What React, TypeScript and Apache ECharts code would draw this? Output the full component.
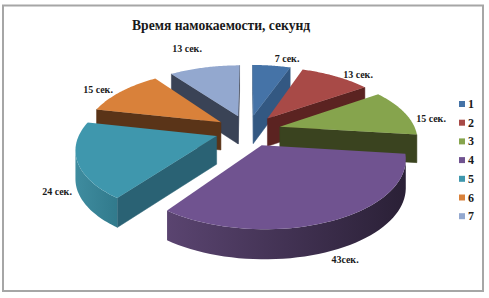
import React, { useEffect, useRef } from "react";
import * as echarts from "echarts";

const CATEGORIES = ["1", "2", "3", "4", "5", "6", "7"];
const VALUES = [7, 13, 15, 43, 24, 15, 13];
const LABELS = ["7 сек.", "13 сек.", "15 сек.", "43сек.", "24 сек.", "15 сек.", "13 сек."];
const TITLE = "Время намокаемости, секунд";

const TOP_COLORS = ["#4573a7", "#a84a47", "#86a44d", "#705390", "#3f97ad", "#d9813a", "#93a8cf"];
const WALL_COLORS = ["#335882", "#5b2321", "#3a431f", "#2b2138", "#2a6274", "#5a3418", "#3a4356"];
const OUTER_LEFT = ["#335882", "#5b2321", "#3a431f", "#5a4470", "#3f8c9f", "#5a3418", "#3a4356"];
const OUTER_RIGHT = ["#335882", "#5b2321", "#3a431f", "#2a2036", "#317a8c", "#5a3418", "#3a4356"];
const PAINT_ORDER = [0, 6, 1, 5, 2, 4, 3];
const LABEL_POS: [number, number][] = [
  [287, 58], [358, 74], [431, 118], [345, 259], [57, 191], [98, 89], [187, 48],
];

const CX = 248, CY = 130.5, RX = 136, RY = 64, PERSP = 0.17, EXPLODE = 0.243, DEPTH = 28;
const FONT = '"Liberation Serif", serif';

const total = VALUES.reduce((a, b) => a + b, 0);

function project(X: number, Y: number, down: number): [number, number] {
  const s = 1 / (1 + PERSP * Y);
  return [CX + X * RX * s, CY - RY * Y * s + down * DEPTH * Math.pow(s, 0.3)];
}

function renderSlice(index: number) {
  return (_params: any, api: any) => {
    const value = api.value(0);
    const before = VALUES.slice(0, index).reduce((a, b) => a + b, 0);
    const a0 = (before / total) * Math.PI * 2;
    const a1 = a0 + (value / total) * Math.PI * 2;
    const mid = (a0 + a1) / 2;
    const ax = EXPLODE * Math.sin(mid);
    const ay = EXPLODE * Math.cos(mid);
    const steps = 48;
    const rimTop: [number, number][] = [];
    const rimBot: [number, number][] = [];
    for (let i = 0; i <= steps; i++) {
      const t = a0 + ((a1 - a0) * i) / steps;
      const X = ax + Math.sin(t);
      const Y = ay + Math.cos(t);
      rimTop.push(project(X, Y, 0));
      rimBot.push(project(X, Y, 1));
    }
    const apexTop = project(ax, ay, 0);
    const apexBot = project(ax, ay, 1);
    const children: any[] = [];
    const wall = (a: number[], b: number[], c: number[], d: number[]) => ({
      type: "polygon",
      shape: { points: [a, b, c, d] },
      style: { fill: WALL_COLORS[index], stroke: WALL_COLORS[index], lineWidth: 0.5 },
    });
    if (rimTop[0][0] < apexTop[0]) {
      children.push(wall(apexTop, rimTop[0], rimBot[0], apexBot));
    }
    if (apexTop[0] < rimTop[steps][0]) {
      children.push(wall(rimTop[steps], apexTop, apexBot, rimBot[steps]));
    }
    const upper: number[][] = [];
    const lower: number[][] = [];
    for (let i = 0; i < steps; i++) {
      if (rimTop[i + 1][0] < rimTop[i][0]) {
        if (!upper.length) {
          upper.push(rimTop[i]);
          lower.push(rimBot[i]);
        }
        upper.push(rimTop[i + 1]);
        lower.push(rimBot[i + 1]);
      }
    }
    if (upper.length) {
      children.push({
        type: "polygon",
        shape: { points: [...upper, ...lower.reverse()] },
        style: {
          fill: new echarts.graphic.LinearGradient(0, 0, 1, 0, [
            { offset: 0, color: OUTER_LEFT[index] },
            { offset: 1, color: OUTER_RIGHT[index] },
          ]),
        },
      });
    }
    children.push({
      type: "polygon",
      shape: { points: [apexTop, ...rimTop] },
      style: { fill: TOP_COLORS[index] },
    });
    children.push({
      type: "text",
      x: LABEL_POS[index][0],
      y: LABEL_POS[index][1],
      z2: 50,
      style: {
        text: LABELS[index],
        fill: "#1a1a1a",
        font: `bold 10px ${FONT}`,
        align: "center",
        verticalAlign: "middle",
      },
    });
    return { type: "group", children };
  };
}

export default function App() {
  const ref = useRef<HTMLDivElement>(null);
  useEffect(() => {
    const chart = echarts.init(ref.current!, null, { renderer: "svg" });
    chart.setOption({
      animation: false,
      backgroundColor: "#ffffff",
      title: {
        text: TITLE,
        left: 132,
        top: 18,
        padding: 0,
        textStyle: { fontFamily: FONT, fontSize: 13.6, fontWeight: "bold", color: "#1a1a1a" },
      },
      legend: {
        show: true,
        orient: "vertical",
        left: 459,
        top: 98,
        padding: 0,
        itemWidth: 6,
        itemHeight: 6,
        itemGap: 6.7,
        icon: "rect",
        data: CATEGORIES,
        selectedMode: false,
        textStyle: {
          fontFamily: FONT,
          fontSize: 12,
          fontWeight: "bold",
          color: "#1a1a1a",
          padding: [0, 0, 0, -2],
        },
      },
      graphic: [
        {
          type: "rect",
          z: -1,
          shape: { x: 3, y: 5.5, width: 480, height: 285.5 },
          style: { fill: "#ffffff", stroke: "#a6a6a6", lineWidth: 2 },
        },
      ],
      series: CATEGORIES.map((name, i) => ({
        type: "custom",
        name,
        coordinateSystem: "none",
        z: 2 + PAINT_ORDER.indexOf(i),
        silent: true,
        itemStyle: { color: TOP_COLORS[i] },
        data: [[VALUES[i]]],
        renderItem: renderSlice(i),
      })),
    });
    return () => chart.dispose();
  }, []);
  return (
    <div
      ref={ref}
      style={{ position: "fixed", left: 0, top: 0, width: 489, height: 298 }}
    />
  );
}
